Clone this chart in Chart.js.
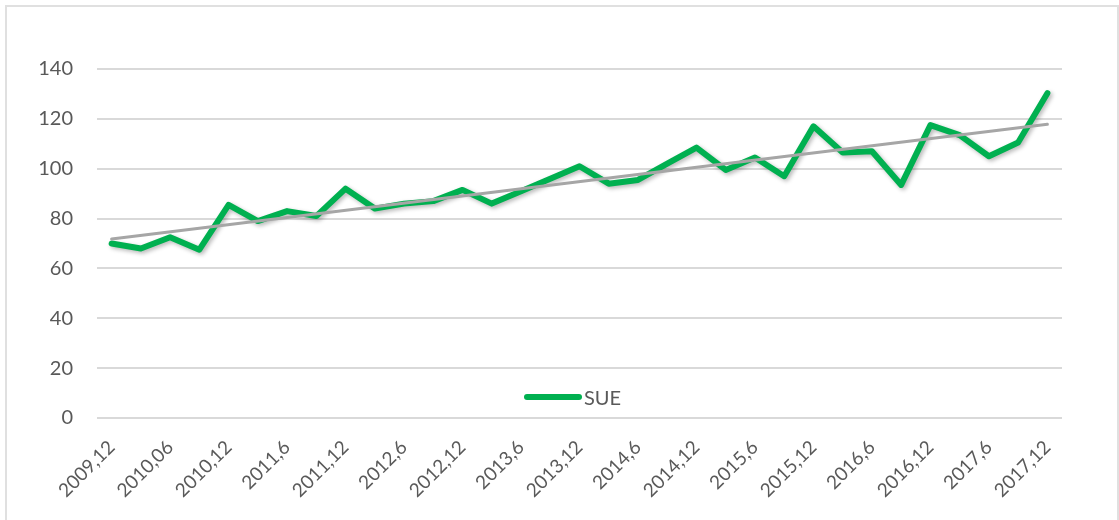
<!DOCTYPE html>
<html>
<head>
<meta charset="utf-8">
<script src="https://cdn.jsdelivr.net/npm/chart.js@4/dist/chart.umd.min.js"></script>
<style>
  html, body { margin: 0; padding: 0; background: #fff; }
  #wrap { position: relative; width: 1119px; height: 520px; overflow: hidden; }
  #c { position: absolute; left: 0; top: 0; }
  #frame { position: absolute; left: 5px; top: 5px; width: 1110px; height: 530px; border: 2px solid #e0e0e0; pointer-events: none; }
  #legend { position: absolute; left: 524px; top: 385px; font-family: Lato, "Open Sans", sans-serif; font-size: 20px; color: #595959; display: flex; align-items: center; }
  #legend .sw { width: 58px; height: 6px; border-radius: 3px; background: #00B050; margin-right: 2px; }
</style>
</head>
<body>
<div id="wrap">
  <canvas id="c" width="1119" height="520"></canvas>
  <div id="frame"></div>
  <div id="legend"><span class="sw"></span><span>SUE</span></div>
</div>
<script>
// Quarterly categories (every other one is shown as a tick label)
const categories = [
  "2009,12","2010,03","2010,06","2010,09","2010,12","2011,3","2011,6","2011,9",
  "2011,12","2012,3","2012,6","2012,9","2012,12","2013,3","2013,6","2013,9",
  "2013,12","2014,3","2014,6","2014,9","2014,12","2015,3","2015,6","2015,9",
  "2015,12","2016,3","2016,6","2016,9","2016,12","2017,3","2017,6","2017,9",
  "2017,12"
];
const sueValues = [
  70, 68, 72.5, 67.5, 85.5, 79, 83, 81,
  92, 84, 86, 87, 91.5, 86, 91, 96,
  101, 94, 95.5, 102, 108.5, 99.5, 104.5, 97,
  117, 106.5, 107, 93.5, 117.5, 113.5, 105, 110.5,
  130.3
];
// Linear trendline endpoints
const trendStart = 71.8;
const trendEnd = 117.8;
const yTicks = [0, 20, 40, 60, 80, 100, 120, 140];

const trendValues = categories.map((_, i) => i === 0 ? trendStart : (i === categories.length - 1 ? trendEnd : null));

const shadowPlugin = {
  id: 'shadow',
  beforeDatasetDraw(chart, args) {
    if (args.index === 0) {
      const ctx = chart.ctx;
      ctx.save();
      ctx.shadowColor = 'rgba(0,0,0,0.28)';
      ctx.shadowBlur = 4;
      ctx.shadowOffsetX = 2;
      ctx.shadowOffsetY = 2;
    }
  },
  afterDatasetDraw(chart, args) {
    if (args.index === 0) chart.ctx.restore();
  }
};

new Chart(document.getElementById('c'), {
  type: 'line',
  data: {
    labels: categories,
    datasets: [
      {
        label: 'SUE',
        data: sueValues,
        borderColor: '#00B050',
        borderWidth: 6,
        pointRadius: 0,
        tension: 0,
        borderJoinStyle: 'round',
        borderCapStyle: 'round',
        order: 2
      },
      {
        label: 'trend',
        data: trendValues,
        spanGaps: true,
        borderColor: '#A6A6A6',
        borderWidth: 3,
        pointRadius: 0,
        tension: 0,
        borderCapStyle: 'round',
        order: 1
      }
    ]
  },
  options: {
    responsive: false,
    animation: false,
    devicePixelRatio: 1,
    layout: { padding: { top: 69, left: 0, right: 57, bottom: 0 } },
    plugins: { legend: { display: false }, tooltip: { enabled: false } },
    scales: {
      x: {
        offset: true,
        grid: { display: false, drawTicks: false },
        border: { display: false },
        ticks: {
          autoSkip: false,
          maxRotation: 45,
          minRotation: 45,
          padding: 18,
          color: '#595959',
          font: { family: 'Lato', size: 19 },
          callback: function(v, i) { return i % 2 === 0 ? categories[i] : ''; }
        },
        afterFit(scale) { scale.height = 102; }
      },
      y: {
        min: 0,
        max: 140,
        afterBuildTicks(scale) { scale.ticks = yTicks.map(v => ({ value: v })); },
        grid: { color: '#d9d9d9', lineWidth: 2, drawTicks: false },
        border: { display: false },
        ticks: {
          padding: 24,
          color: '#595959',
          font: { family: 'Lato', size: 20 }
        },
        afterFit(scale) { scale.width = 97; }
      }
    }
  },
  plugins: [shadowPlugin]
});
</script>
</body>
</html>
